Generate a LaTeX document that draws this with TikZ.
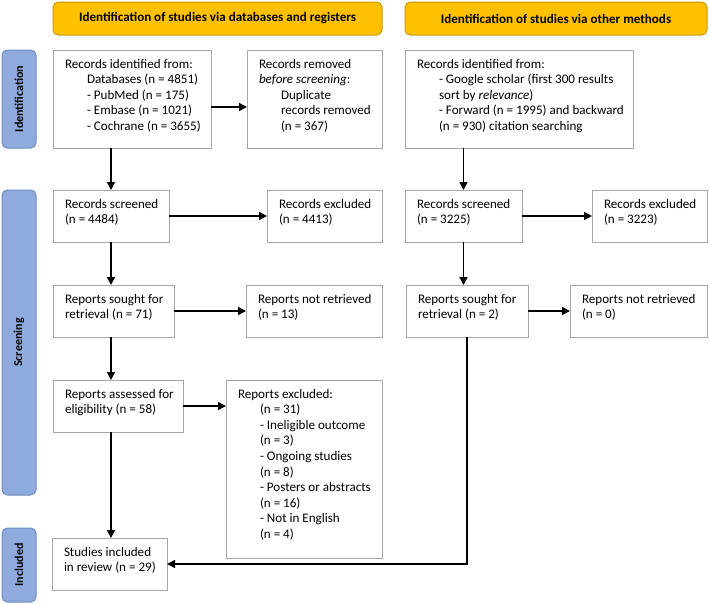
\documentclass[tikz,border=0pt]{standalone}
\usepackage{fontspec}
\setmainfont{Carlito}
\usetikzlibrary{arrows.meta}
\newdimen\pxu \pxu=0.75pt
\definecolor{hdrfill}{HTML}{FFC000}
\definecolor{hdrdraw}{HTML}{C99A06}
\definecolor{sidefill}{HTML}{8FAADC}
\definecolor{sidedraw}{HTML}{6F8CC2}
\definecolor{boxdraw}{HTML}{A6A6A6}
\tikzset{
  box/.style={draw=boxdraw, line width=0.75pt, inner sep=0pt, outer sep=0pt, fill=white,
    font=\fontsize{9.8}{11.7}\selectfont},
  hdr/.style={draw=hdrdraw, fill=hdrfill, rounded corners=4pt, line width=0.75pt, anchor=north west,
    inner sep=0pt, outer sep=0pt, font=\fontsize{9.8}{11.8}\selectfont\bfseries},
  side/.style={draw=sidedraw, fill=sidefill, rounded corners=4pt, line width=0.75pt, anchor=north west,
    inner sep=0pt, outer sep=0pt},
  sidelbl/.style={rotate=90, font=\fontsize{9.0}{11}\selectfont\bfseries, text=black},
  arr/.style={line width=1.1pt, -{Triangle[length=6pt, width=6pt]}},
  conn/.style={line width=1.1pt}
}
\newcommand{\ind}{\hspace*{22\pxu}}
\newcommand{\bx}[6]{\node[box, anchor=north west] (#1) at (#2,#3)
  {\parbox[c][#5\pxu][t]{#4\pxu}{\vspace*{9\pxu}\raggedright\leftskip=12\pxu #6}};}
\begin{document}
\begin{tikzpicture}[x=0.75pt, y=-0.75pt]
\useasboundingbox (0,0) rectangle (709,603);
% headers
\node[hdr, minimum width={329*0.75pt}, minimum height={33*0.75pt}] (h1) at (53,2) {Identification of studies via databases and registers};
\node[hdr, minimum width={302*0.75pt}, minimum height={33*0.75pt}] (h2) at (405,2) {Identification of studies via other methods};
% side bars
\node[side, minimum width={34*0.75pt}, minimum height={98*0.75pt}] (s1) at (2,50) {};
\node[sidelbl] (l1) at (s1.center) {Identification};
\node[side, minimum width={34*0.75pt}, minimum height={305*0.75pt}] (s2) at (2,190) {};
\node[sidelbl] (l2) at (s2.center) {Screening};
\node[side, minimum width={34*0.75pt}, minimum height={74*0.75pt}] (s3) at (2,528) {};
\node[sidelbl] (l3) at (s3.center) {Included};
% boxes
\bx{id1}{53}{50}{158}{98}{Records identified from:\\\ind Databases (n = 4851)\\\ind - PubMed (n = 175)\\\ind - Embase (n = 1021)\\\ind - Cochrane (n = 3655)}
\bx{rem}{247}{50}{135}{98}{Records removed\\\textit{before screening}:\\\ind Duplicate\\\ind records removed\\\ind (n = 367)}
\bx{oid}{405}{50}{228}{98}{Records identified from:\\\ind - Google scholar (first 300 results\\\ind sort by \textit{relevance})\\\ind - Forward (n = 1995) and backward\\\ind (n = 930) citation searching}
\bx{scr}{53}{190}{116}{52}{Records screened\\(n = 4484)}
\bx{exc}{267}{190}{115}{52}{Records excluded\\(n = 4413)}
\bx{oscr}{405}{190}{117}{52}{Records screened\\(n = 3225)}
\bx{oexc}{592}{190}{115}{52}{Records excluded\\(n = 3223)}
\bx{sought}{53}{285}{121}{52}{Reports sought for\\retrieval (n = 71)}
\bx{nr}{246}{285}{136}{52}{Reports not retrieved\\(n = 13)}
\bx{osought}{406}{285}{122}{52}{Reports sought for\\retrieval (n = 2)}
\bx{onr}{570}{285}{137}{52}{Reports not retrieved\\(n = 0)}
\bx{ass}{53}{380}{130}{52}{Reports assessed for\\eligibility (n = 58)}
\bx{rexc}{226}{380}{156}{178}{Reports excluded:\\\ind (n = 31)\\\ind - Ineligible outcome\\\ind (n = 3)\\\ind - Ongoing studies\\\ind (n = 8)\\\ind - Posters or abstracts\\\ind (n = 16)\\\ind - Not in English\\\ind (n = 4)}
\bx{inc}{52}{538}{115}{52}{Studies included\\in review (n = 29)}
% connectors
\draw[arr] ([yshift=-6pt]id1.east) -- ([yshift=-6pt]rem.west);
\draw[arr] (id1.south -| scr.north) -- (scr.north);
\draw[arr] (scr.east) -- (exc.west);
\draw[arr] (scr.south) -- (scr.south |- sought.north);
\draw[arr] (sought.east) -- (nr.west);
\draw[arr] (sought.south -| scr.south) -- (ass.north -| scr.south);
\draw[arr] (ass.east) -- (ass.east -| rexc.west);
\draw[arr] (ass.south -| scr.south) -- (inc.north -| scr.south);
\draw[arr] (oid.south -| oscr.north) -- (oscr.north);
\draw[arr] (oscr.east) -- (oexc.west);
\draw[arr] (oscr.south) -- (oscr.south |- osought.north);
\draw[arr] (osought.east) -- (onr.west);
\draw[arr] (osought.south) |- (inc.east);
\end{tikzpicture}
\end{document}
